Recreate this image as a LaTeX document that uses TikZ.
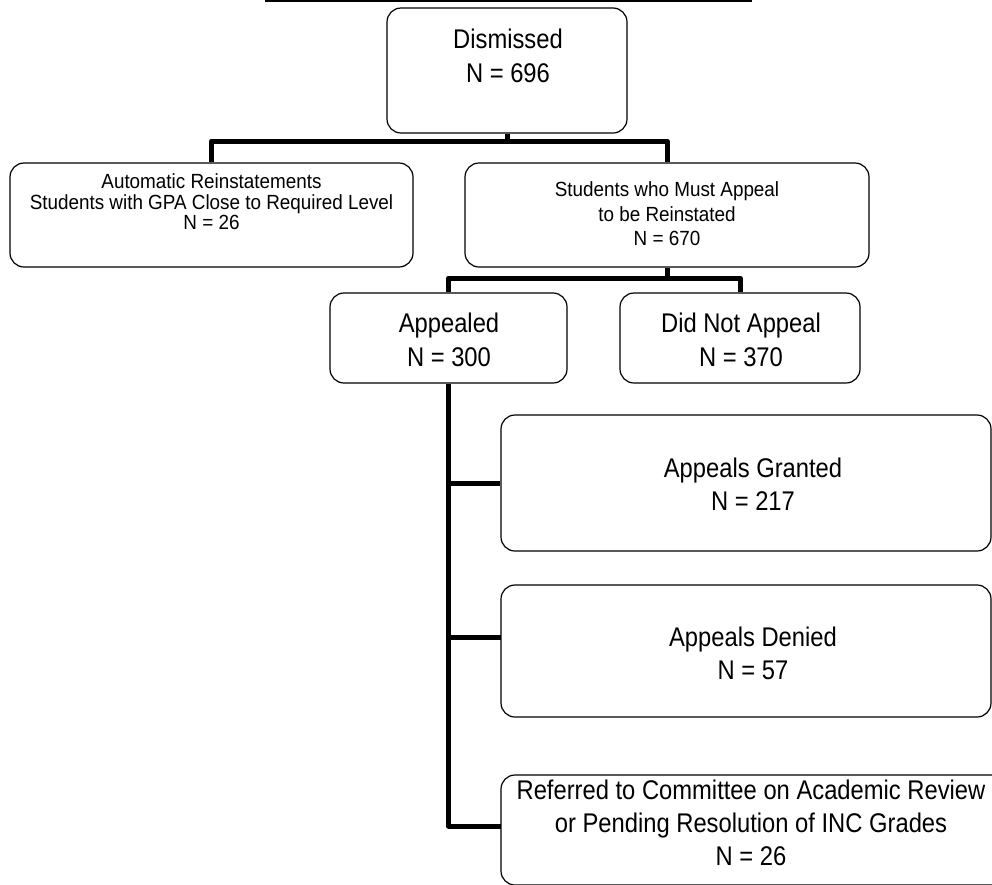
\documentclass[tikz,border=0pt]{standalone}
\usepackage{fontspec}
\setmainfont{Liberation Sans}
\newfontfamily\condfont{Liberation Sans}[FakeStretch=0.88]
\newfontfamily\smcondfont{Liberation Sans}[FakeStretch=0.92]
\begin{document}
\begin{tikzpicture}[x=1pt,y=-1pt,
  box/.style={draw, line width=1.2pt, rounded corners=14pt, inner sep=0pt},
  conn/.style={line width=5pt, line join=round},
  big/.style={font=\condfont\fontsize{27}{34}\selectfont, align=center, inner sep=0pt},
  bigb/.style={font=\condfont\fontsize{27}{33}\selectfont, align=center, inner sep=0pt},
  small/.style={font=\smcondfont\fontsize{20.5}{20.5}\selectfont, align=center, inner sep=0pt},
  smallb/.style={font=\smcondfont\fontsize{20.5}{24.5}\selectfont, align=center, inner sep=0pt}]
\useasboundingbox (0,0) rectangle (992,884);
% title underline (title cut off above the picture)
\draw[line width=2.5pt] (265,1.2) -- (752,1.2);
% boxes
\node[box, minimum width=240pt, minimum height=125pt] (dis) at (507,70.5) {};
\node[box, minimum width=403pt, minimum height=104pt] (auto) at (211.5,215) {};
\node[box, minimum width=404pt, minimum height=104pt] (must) at (667,215) {};
\node[box, minimum width=237pt, minimum height=90pt] (app) at (448.5,338) {};
\node[box, minimum width=240pt, minimum height=90pt] (dna) at (740,338) {};
\node[box, minimum width=490pt, minimum height=136pt] (gra) at (746,483) {};
\node[box, minimum width=490pt, minimum height=132pt] (den) at (746,651) {};
\node[box, minimum width=506pt, minimum height=110pt] (ref) at (754,830) {};
% texts
\node[big] (tdis) at (508,56) {Dismissed\\N = 696};
\node[small] (tauto) at (211.5,202) {Automatic Reinstatements\\Students with GPA Close to Required Level\\N = 26};
\node[smallb] (tmust) at (667,214) {Students who Must Appeal\\to be Reinstated\\N = 670};
\node[big] (tapp) at (449,340) {Appealed\\N = 300};
\node[big] (tdna) at (741,340) {Did Not Appeal\\N = 370};
\node[bigb] (tgra) at (753,484) {Appeals Granted\\N = 217};
\node[bigb] (tden) at (753,653) {Appeals Denied\\N = 57};
\node[bigb] (tref) at (751,823) {Referred to Committee on Academic Review\\or Pending Resolution of INC Grades\\N = 26};
% connectors
\coordinate (j1) at (507,141);
\draw[conn] (dis.south) -- (j1);
\draw[conn] (auto.north) |- (j1) -| (must.north);
\coordinate (j2) at (667,278);
\draw[conn] (must.south) -- (j2);
\draw[conn] (app.north) |- (j2) -| (dna.north);
\coordinate (kden) at (501,637);
\coordinate (kref) at (501,826);
\draw[conn] (app.south) |- (kref);
\draw[conn] (app.south |- gra.west) -- (gra.west);
\draw[conn] (app.south |- kden) -- (kden);
\end{tikzpicture}
\end{document}
